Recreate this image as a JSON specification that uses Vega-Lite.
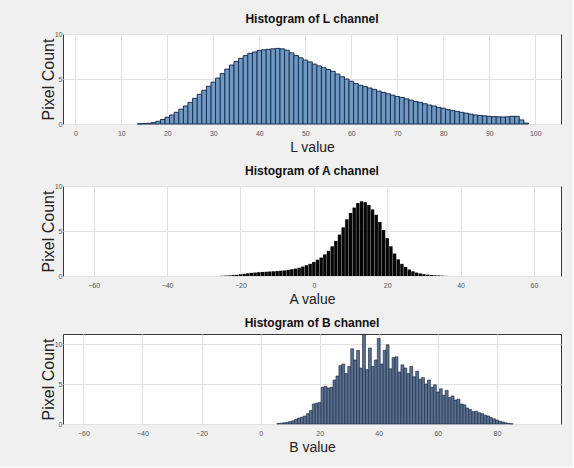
{
  "$schema": "https://vega.github.io/schema/vega-lite/v6.json",
  "background": "#f0f0f0",
  "padding": {"left": 39, "top": 12, "right": 11, "bottom": 12},
  "spacing": 9,
  "config": {
    "font": "Liberation Sans",
    "view": {"fill": "white", "stroke": "#3a3a3a", "strokeWidth": 1},
    "title": {"font": "Liberation Sans", "fontSize": 12, "fontWeight": "bold", "color": "#111111", "offset": 4},
    "axis": {
      "labelFontSize": 7, "labelColor": "#555555", "labelFont": "Liberation Sans",
      "titleFontWeight": "normal", "titleColor": "#222222",
      "grid": true, "gridColor": "#e2e2e2", "domain": false,
      "ticks": false
    },
    "axisX": {"titleFont": "Liberation Sans", "titleFontSize": 14, "labelPadding": 5, "titlePadding": 4},
    "axisY": {"titleFont": "Liberation Sans", "titleFontSize": 16, "titlePadding": -2, "labelPadding": 1}
  },
  "datasets": {
    "L": [
      {"v":14,"c":0.02},{"v":15,"c":0.05},{"v":16,"c":0.08},{"v":17,"c":0.15},{"v":18,"c":0.3},{"v":19,"c":0.5},
      {"v":20,"c":0.75},{"v":21,"c":1.0},{"v":22,"c":1.3},{"v":23,"c":1.65},{"v":24,"c":2.0},{"v":25,"c":2.4},
      {"v":26,"c":2.85},{"v":27,"c":3.3},{"v":28,"c":3.75},{"v":29,"c":4.2},{"v":30,"c":4.65},{"v":31,"c":5.1},
      {"v":32,"c":5.6},{"v":33,"c":6.1},{"v":34,"c":6.55},{"v":35,"c":6.95},{"v":36,"c":7.3},{"v":37,"c":7.6},
      {"v":38,"c":7.85},{"v":39,"c":8.0},{"v":40,"c":8.15},{"v":41,"c":8.25},{"v":42,"c":8.3},{"v":43,"c":8.35},
      {"v":44,"c":8.4},{"v":45,"c":8.35},{"v":46,"c":8.2},{"v":47,"c":7.9},{"v":48,"c":7.6},{"v":49,"c":7.35},
      {"v":50,"c":7.1},{"v":51,"c":6.9},{"v":52,"c":6.65},{"v":53,"c":6.45},{"v":54,"c":6.25},{"v":55,"c":6.05},
      {"v":56,"c":5.85},{"v":57,"c":5.55},{"v":58,"c":5.25},{"v":59,"c":5.0},{"v":60,"c":4.75},{"v":61,"c":4.5},
      {"v":62,"c":4.3},{"v":63,"c":4.15},{"v":64,"c":4.0},{"v":65,"c":3.85},{"v":66,"c":3.65},{"v":67,"c":3.5},
      {"v":68,"c":3.35},{"v":69,"c":3.2},{"v":70,"c":3.05},{"v":71,"c":2.95},{"v":72,"c":2.8},{"v":73,"c":2.65},
      {"v":74,"c":2.5},{"v":75,"c":2.4},{"v":76,"c":2.25},{"v":77,"c":2.1},{"v":78,"c":2.0},{"v":79,"c":1.85},
      {"v":80,"c":1.75},{"v":81,"c":1.6},{"v":82,"c":1.5},{"v":83,"c":1.4},{"v":84,"c":1.3},{"v":85,"c":1.2},
      {"v":86,"c":1.1},{"v":87,"c":1.0},{"v":88,"c":0.95},{"v":89,"c":0.9},{"v":90,"c":0.85},{"v":91,"c":0.82},
      {"v":92,"c":0.8},{"v":93,"c":0.78},{"v":94,"c":0.8},{"v":95,"c":0.85},{"v":96,"c":0.85},{"v":97,"c":0.45},
      {"v":98,"c":0.1}
    ],
    "A": [
      {"v":-25,"c":0.03},{"v":-24,"c":0.05},{"v":-23,"c":0.07},{"v":-22,"c":0.1},{"v":-21,"c":0.13},{"v":-20,"c":0.18},
      {"v":-19,"c":0.25},{"v":-18,"c":0.3},{"v":-17,"c":0.35},{"v":-16,"c":0.38},{"v":-15,"c":0.42},{"v":-14,"c":0.45},
      {"v":-13,"c":0.47},{"v":-12,"c":0.5},{"v":-11,"c":0.52},{"v":-10,"c":0.55},{"v":-9,"c":0.58},{"v":-8,"c":0.62},
      {"v":-7,"c":0.68},{"v":-6,"c":0.75},{"v":-5,"c":0.82},{"v":-4,"c":0.92},{"v":-3,"c":1.05},{"v":-2,"c":1.2},
      {"v":-1,"c":1.35},{"v":0,"c":1.55},{"v":1,"c":1.8},{"v":2,"c":2.05},{"v":3,"c":2.4},{"v":4,"c":2.8},
      {"v":5,"c":3.3},{"v":6,"c":3.9},{"v":7,"c":4.6},{"v":8,"c":5.4},{"v":9,"c":6.3},{"v":10,"c":7.0},
      {"v":11,"c":7.6},{"v":12,"c":8.1},{"v":13,"c":8.3},{"v":14,"c":8.2},{"v":15,"c":7.9},{"v":16,"c":7.4},
      {"v":17,"c":6.8},{"v":18,"c":6.0},{"v":19,"c":5.1},{"v":20,"c":4.2},{"v":21,"c":3.3},{"v":22,"c":2.5},
      {"v":23,"c":1.85},{"v":24,"c":1.35},{"v":25,"c":1.0},{"v":26,"c":0.72},{"v":27,"c":0.52},{"v":28,"c":0.38},
      {"v":29,"c":0.28},{"v":30,"c":0.2},{"v":31,"c":0.15},{"v":32,"c":0.11},{"v":33,"c":0.08},{"v":34,"c":0.06},
      {"v":35,"c":0.04},{"v":36,"c":0.02}
    ],
    "B": [
      {"v":6,"c":0.05},{"v":7,"c":0.1},{"v":8,"c":0.15},{"v":9,"c":0.2},{"v":10,"c":0.3},{"v":11,"c":0.4},
      {"v":12,"c":0.6},{"v":13,"c":0.75},{"v":14,"c":0.85},{"v":15,"c":1.0},{"v":16,"c":1.3},{"v":17,"c":1.7},
      {"v":18,"c":2.5},{"v":19,"c":2.6},{"v":20,"c":2.7},{"v":21,"c":4.6},{"v":22,"c":4.7},{"v":23,"c":4.5},
      {"v":24,"c":4.6},{"v":25,"c":5.5},{"v":26,"c":6.0},{"v":27,"c":7.3},{"v":28,"c":7.5},{"v":29,"c":6.3},
      {"v":30,"c":7.2},{"v":31,"c":9.4},{"v":32,"c":8.0},{"v":33,"c":9.2},{"v":34,"c":7.0},{"v":35,"c":11.2},
      {"v":36,"c":6.8},{"v":37,"c":9.5},{"v":38,"c":7.2},{"v":39,"c":8.0},{"v":40,"c":10.7},{"v":41,"c":7.5},
      {"v":42,"c":9.2},{"v":43,"c":9.9},{"v":44,"c":6.9},{"v":45,"c":8.3},{"v":46,"c":8.4},{"v":47,"c":6.5},
      {"v":48,"c":7.4},{"v":49,"c":7.0},{"v":50,"c":6.3},{"v":51,"c":7.2},{"v":52,"c":5.9},{"v":53,"c":6.6},
      {"v":54,"c":5.6},{"v":55,"c":5.8},{"v":56,"c":5.0},{"v":57,"c":5.5},{"v":58,"c":4.6},{"v":59,"c":4.9},
      {"v":60,"c":4.0},{"v":61,"c":4.4},{"v":62,"c":3.6},{"v":63,"c":4.2},{"v":64,"c":3.3},{"v":65,"c":3.5},
      {"v":66,"c":3.0},{"v":67,"c":3.1},{"v":68,"c":2.5},{"v":69,"c":2.4},{"v":70,"c":2.0},{"v":71,"c":1.8},
      {"v":72,"c":1.55},{"v":73,"c":1.6},{"v":74,"c":1.4},{"v":75,"c":1.3},{"v":76,"c":1.1},{"v":77,"c":1.0},
      {"v":78,"c":0.8},{"v":79,"c":0.65},{"v":80,"c":0.5},{"v":81,"c":0.35},{"v":82,"c":0.25},{"v":83,"c":0.15},
      {"v":84,"c":0.08},{"v":85,"c":0.03}
    ]
  },
  "vconcat": [
    {
      "title": "Histogram of L channel",
      "width": 498, "height": 90,
      "layer": [
        {
          "data": {"name": "L"},
          "mark": {"type": "bar", "size": 4.7, "fill": "#6f99c2", "stroke": "#1b2f50", "strokeWidth": 1},
          "encoding": {
            "x": {"field": "v", "type": "quantitative", "title": "L value",
                  "scale": {"domain": [-1.6, 104.5], "nice": false, "zero": false},
                  "axis": {"values": [0,10,20,30,40,50,60,70,80,90,100]}},
            "y": {"field": "c", "type": "quantitative", "title": "Pixel Count",
                  "scale": {"domain": [0, 10], "nice": false},
                  "axis": {"values": [0,5,10]}}
          }
        },
        {
          "mark": {"type": "text", "text": "×10⁴", "fontSize": 6, "color": "#666666", "align": "left", "baseline": "bottom", "dy": -1, "dx": 1},
          "encoding": {"x": {"datum": -1.6}, "y": {"datum": 10}}
        }
      ]
    },
    {
      "title": "Histogram of A channel",
      "width": 498, "height": 90,
      "layer": [
        {
          "data": {"name": "A"},
          "mark": {"type": "bar", "size": 3.4, "fill": "#050505"},
          "encoding": {
            "x": {"field": "v", "type": "quantitative", "title": "A value",
                  "scale": {"domain": [-67, 66], "nice": false, "zero": false},
                  "axis": {"values": [-60,-40,-20,0,20,40,60]}},
            "y": {"field": "c", "type": "quantitative", "title": "Pixel Count",
                  "scale": {"domain": [0, 10], "nice": false},
                  "axis": {"values": [0,5,10]}}
          }
        },
        {
          "mark": {"type": "text", "text": "×10⁴", "fontSize": 6, "color": "#666666", "align": "left", "baseline": "bottom", "dy": -1, "dx": 1},
          "encoding": {"x": {"datum": -67}, "y": {"datum": 10}}
        }
      ]
    },
    {
      "title": "Histogram of B channel",
      "width": 498, "height": 90,
      "layer": [
        {
          "data": {"name": "B"},
          "mark": {"type": "bar", "size": 2.9, "fill": "#5b7190", "stroke": "#16223a", "strokeWidth": 0.6},
          "encoding": {
            "x": {"field": "v", "type": "quantitative", "title": "B value",
                  "scale": {"domain": [-65.2, 100], "nice": false, "zero": false},
                  "axis": {"values": [-60,-40,-20,0,20,40,60,80]}},
            "y": {"field": "c", "type": "quantitative", "title": "Pixel Count",
                  "scale": {"domain": [0, 11.25], "nice": false},
                  "axis": {"values": [0,5,10]}}
          }
        },
        {
          "mark": {"type": "text", "text": "×10⁴", "fontSize": 6, "color": "#666666", "align": "left", "baseline": "bottom", "dy": -1, "dx": 1},
          "encoding": {"x": {"datum": -65.2}, "y": {"datum": 11.25}}
        }
      ]
    }
  ]
}
